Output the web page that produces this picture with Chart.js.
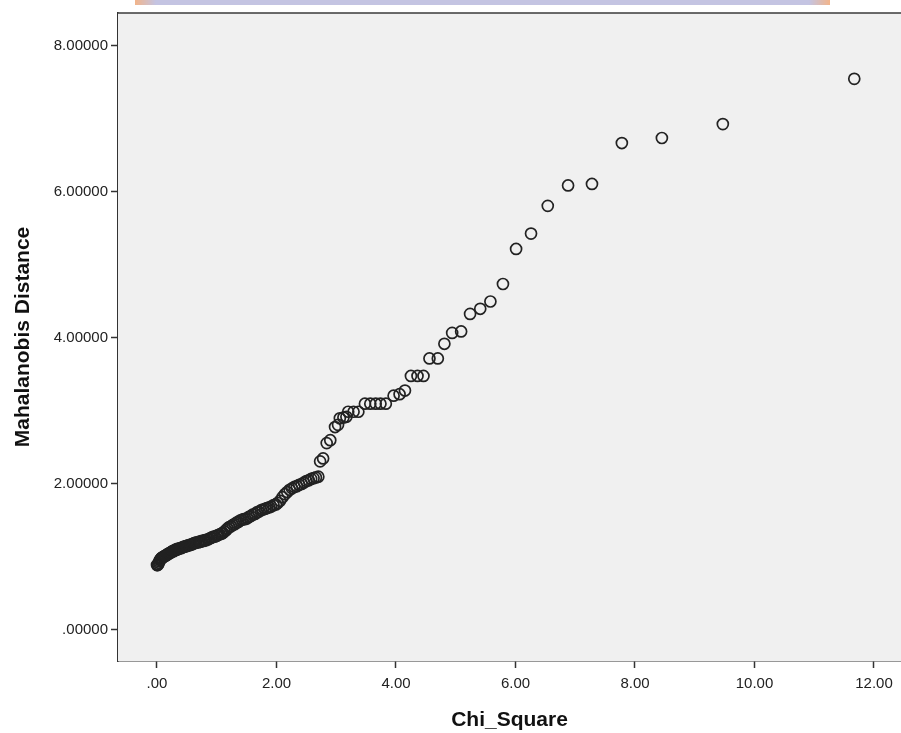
<!DOCTYPE html>
<html>
<head>
<meta charset="utf-8">
<script src="https://cdn.jsdelivr.net/npm/chart.js@4"></script>
<style>
  html, body { margin: 0; padding: 0; background: #ffffff; }
  #wrap { position: relative; width: 901px; height: 733px; overflow: hidden; }
  #mark { position: absolute; left: 135px; top: 0; width: 695px; height: 5px;
          background: linear-gradient(90deg, #f2b48a 0%, #c4c4e2 3%, #c4c4e2 97%, #f2b48a 100%); }
  canvas { position: absolute; left: 0; top: 0; }
</style>
</head>
<body>
<div id="wrap">
<canvas id="c" width="901" height="733"></canvas>
<div id="mark"></div>
</div>
<script>
const chiSquare = [
  0.00, 0.01, 0.02, 0.03, 0.04, 0.05, 0.06, 0.07, 0.08, 0.10,
  0.11, 0.12, 0.14, 0.15, 0.17, 0.18, 0.20, 0.21, 0.23, 0.24,
  0.26, 0.28, 0.29, 0.31, 0.33, 0.34, 0.36, 0.38, 0.40, 0.42,
  0.44, 0.46, 0.48, 0.50, 0.52, 0.54, 0.56, 0.58, 0.60, 0.62,
  0.64, 0.66, 0.69, 0.71, 0.73, 0.75, 0.78, 0.80, 0.82, 0.85,
  0.87, 0.90, 0.92, 0.95, 0.97, 1.00, 1.02, 1.05, 1.08, 1.10,
  1.13, 1.16, 1.18, 1.21, 1.24, 1.27, 1.30, 1.33, 1.36, 1.39,
  1.42, 1.45, 1.48, 1.51, 1.54, 1.57, 1.60, 1.64, 1.67, 1.70,
  1.74, 1.77, 1.81, 1.84, 1.88, 1.91, 1.95, 1.99, 2.02, 2.06,
  2.10, 2.14, 2.18, 2.22, 2.26, 2.30, 2.34, 2.38, 2.42, 2.46,
  2.50, 2.54, 2.58, 2.62, 2.66, 2.70,
  2.73, 2.78, 2.84, 2.90, 2.98, 3.03, 3.06, 3.12, 3.17, 3.20,
  3.29, 3.37, 3.48, 3.57, 3.66, 3.74, 3.83, 3.96, 4.06, 4.15,
  4.25, 4.36, 4.46, 4.56, 4.70, 4.81, 4.94, 5.09, 5.24, 5.41,
  5.58, 5.79, 6.01, 6.26, 6.54, 6.88, 7.28, 7.78, 8.45, 9.47,
  11.67
];
const mahalanobis = [
  0.89, 0.89, 0.90, 0.92, 0.94, 0.96, 0.97, 0.98, 0.99, 1.00,
  1.00, 1.01, 1.02, 1.02, 1.03, 1.04, 1.05, 1.05, 1.06, 1.07,
  1.08, 1.08, 1.09, 1.10, 1.10, 1.11, 1.11, 1.12, 1.12, 1.13,
  1.14, 1.14, 1.15, 1.15, 1.16, 1.16, 1.17, 1.17, 1.18, 1.19,
  1.19, 1.20, 1.20, 1.21, 1.21, 1.22, 1.22, 1.23, 1.23, 1.24,
  1.25, 1.26, 1.27, 1.28, 1.28, 1.29, 1.30, 1.31, 1.32, 1.33,
  1.35, 1.37, 1.39, 1.41, 1.42, 1.44, 1.45, 1.47, 1.48, 1.50,
  1.51, 1.52, 1.52, 1.53, 1.55, 1.56, 1.58, 1.59, 1.61, 1.62,
  1.64, 1.65, 1.66, 1.67, 1.68, 1.69, 1.71, 1.72, 1.74, 1.77,
  1.82, 1.86, 1.89, 1.92, 1.94, 1.96, 1.97, 1.99, 2.00, 2.02,
  2.04, 2.05, 2.07, 2.08, 2.09, 2.10,
  2.31, 2.35, 2.56, 2.60, 2.78, 2.81, 2.90, 2.91, 2.92, 2.99,
  2.99, 2.99, 3.10, 3.10, 3.10, 3.10, 3.10, 3.21, 3.23, 3.28,
  3.48, 3.48, 3.48, 3.72, 3.72, 3.92, 4.07, 4.09, 4.33, 4.40,
  4.50, 4.74, 5.22, 5.43, 5.81, 6.09, 6.11, 6.67, 6.74, 6.93,
  7.55
];
const xTicks = [0, 2, 4, 6, 8, 10, 12];
const yTicks = [0, 2, 4, 6, 8];
const xTitle = 'Chi_Square';
const yTitle = 'Mahalanobis Distance';

const points = chiSquare.map((x, i) => ({ x: x, y: mahalanobis[i] }));

function fmt(v, d) {
  let s = v.toFixed(d);
  if (s.startsWith('0.')) s = s.slice(1);
  return s;
}

const frame = {
  id: 'frame',
  beforeDatasetsDraw(chart) {
    const a = chart.chartArea, ctx = chart.ctx;
    ctx.save();
    ctx.fillStyle = '#f0f0f0';
    ctx.fillRect(a.left, a.top, a.right - a.left, a.bottom - a.top);
    ctx.restore();
  },
  afterDraw(chart) {
    const a = chart.chartArea, ctx = chart.ctx;
    ctx.save();
    ctx.strokeStyle = '#3a3a3a';
    ctx.lineWidth = 1.5;
    ctx.beginPath();
    ctx.moveTo(a.left, a.top);
    ctx.lineTo(a.right, a.top);
    ctx.stroke();
    ctx.restore();
  }
};

const tickFont = { family: 'Liberation Sans, Arial, sans-serif', size: 15 };
const titleFont = { family: 'Liberation Sans, Arial, sans-serif', size: 21, weight: 'bold' };

new Chart(document.getElementById('c'), {
  type: 'scatter',
  data: {
    datasets: [{
      data: points,
      pointRadius: 5.5,
      pointHoverRadius: 5.5,
      pointBorderWidth: 1.7,
      pointBorderColor: '#222222',
      pointBackgroundColor: 'rgba(0,0,0,0)'
    }]
  },
  options: {
    responsive: false,
    animation: false,
    devicePixelRatio: 1,
    layout: { autoPadding: false, padding: { top: 13, right: 0, left: 0, bottom: 0 } },
    plugins: { legend: { display: false }, tooltip: { enabled: false } },
    scales: {
      x: {
        type: 'linear',
        min: -0.6527,
        max: 12.452,
        afterBuildTicks(s) { s.ticks = xTicks.map(v => ({ value: v })); },
        afterFit(s) { s.height = 72; s.paddingLeft = 0; s.paddingRight = 0; },
        ticks: {
          color: '#222',
          font: tickFont,
          padding: 7,
          maxRotation: 0,
          autoSkip: false,
          callback: v => fmt(v, 2)
        },
        grid: { drawOnChartArea: false, tickLength: 7, tickColor: '#333', tickWidth: 1.5 },
        border: { display: true, color: '#333', width: 1.5 },
        title: { display: true, text: xTitle, font: titleFont, color: '#111', padding: { top: 14, bottom: 0 } }
      },
      y: {
        type: 'linear',
        min: -0.4247,
        max: 8.452,
        afterBuildTicks(s) { s.ticks = yTicks.map(v => ({ value: v })); },
        afterFit(s) { s.width = 118; s.paddingTop = 0; s.paddingBottom = 0; },
        ticks: {
          color: '#222',
          font: tickFont,
          padding: 3,
          autoSkip: false,
          callback: v => fmt(v, 5)
        },
        grid: { drawOnChartArea: false, tickLength: 7, tickColor: '#333', tickWidth: 1.5 },
        border: { display: true, color: '#333', width: 1.5 },
        title: { display: true, text: yTitle, font: titleFont, color: '#111', padding: { top: 11, bottom: 0 } }
      }
    }
  },
  plugins: [frame]
});
</script>
</body>
</html>
